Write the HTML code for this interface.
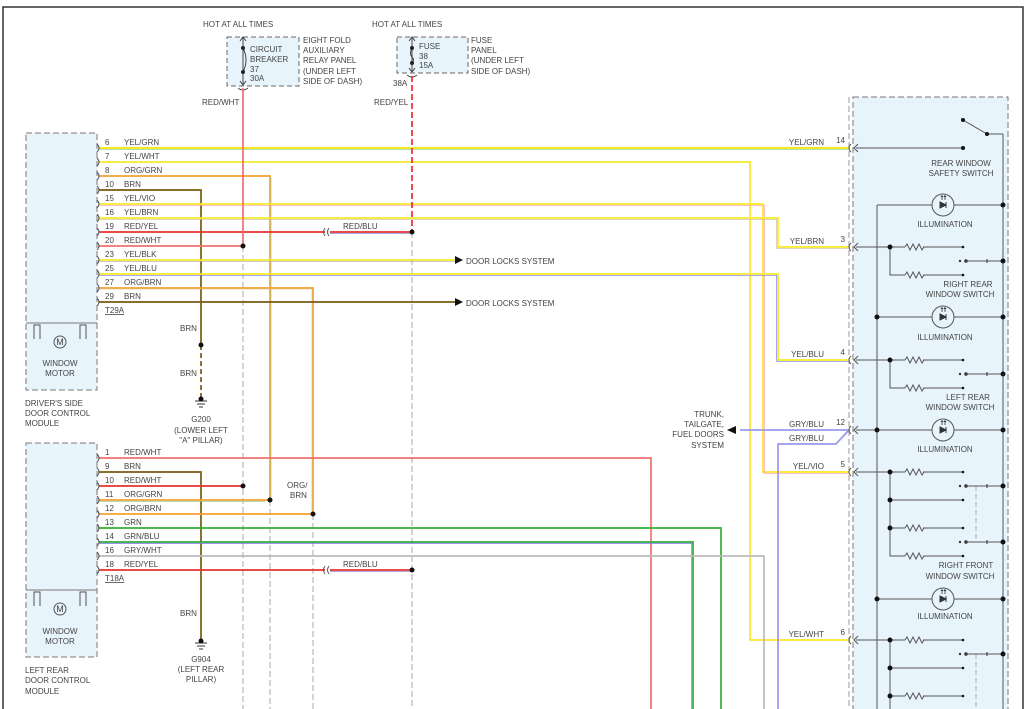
<!DOCTYPE html>
<html><head><meta charset="utf-8"><style>
html,body{margin:0;padding:0;background:#fff;width:1031px;height:709px;overflow:hidden}
svg text{font-family:"Liberation Sans",sans-serif;font-size:8px;fill:#444}
</style></head><body>
<svg width="1031" height="709" viewBox="0 0 1031 709" xmlns="http://www.w3.org/2000/svg">
<defs>
<g id="res"><path d="M0,0 l2,-3 l3,6 l3,-6 l3,6 l3,-6 l3,6 l2,-3" fill="none" stroke="#555" stroke-width="1"/></g>
<g id="illum"><circle r="11" fill="#e8f4fb" stroke="#555" stroke-width="1"/><path d="M-3,-3 L3,0 L-3,3Z M3,-3 V3" fill="#333" stroke="#333" stroke-width="1"/><path d="M-1,-5 v-4 M2,-5 v-4" stroke="#333" stroke-width="0.8"/><path d="M-2.5,-8 l1.5,-2 l1.5,2 M0.5,-8 l1.5,-2 l1.5,2" fill="#333"/></g>
<g id="dotline"><circle cx="960" cy="0" r="1.2" fill="#333"/><circle cx="966" cy="0" r="1.8" fill="#333"/><line x1="966" y1="0" x2="1003" y2="0" stroke="#555"/><line x1="987" y1="-2" x2="987" y2="2" stroke="#333"/><circle cx="1003" cy="0" r="2.5" fill="#111"/></g>
<g id="motor"><path d="M-20,0 v-14 h-6 v14 M20,0 v-14 h6 v14" fill="none" stroke="#555"/><circle r="6" cy="3" fill="#e8f4fb" stroke="#555"/><text x="0" y="6" text-anchor="middle" style="font-size:9px">M</text></g>
</defs>
<path d="M3,709 V7 H1023 V709" fill="none" stroke="#333" stroke-width="1.5"/>

<text x="203" y="27">HOT AT ALL TIMES</text>
<text x="372" y="27">HOT AT ALL TIMES</text>
<rect x="227" y="37" width="72" height="49" fill="#e8f4fb" stroke="#666" stroke-dasharray="5,3"/>
<rect x="397" y="37" width="71" height="36" fill="#e8f4fb" stroke="#666" stroke-dasharray="5,3"/>
<path d="M243,37 V85 M240,41 l3,-4 l3,4 M240,81 l3,4 l3,-4" fill="none" stroke="#444"/>
<path d="M243,48 q6,12 0,24" fill="none" stroke="#444"/>
<circle cx="243" cy="48" r="2" fill="#222"/><circle cx="243" cy="72" r="2" fill="#222"/>
<path d="M238,88 q5,4 10,0" fill="none" stroke="#444"/>
<text x="250" y="52">CIRCUIT</text><text x="250" y="62">BREAKER</text><text x="250" y="72">37</text><text x="250" y="81">30A</text>
<text x="303" y="43">EIGHT FOLD</text><text x="303" y="53">AUXILIARY</text><text x="303" y="63">RELAY PANEL</text><text x="303" y="74">(UNDER LEFT</text><text x="303" y="84">SIDE OF DASH)</text>
<path d="M412,37 V72 M409,41 l3,-4 l3,4 M409,68 l3,4 l3,-4" fill="none" stroke="#444"/>
<path d="M412,48 q-3,6 0,9 q3,3 0,6" fill="none" stroke="#444"/>
<circle cx="412" cy="48" r="2" fill="#222"/><circle cx="412" cy="63" r="2" fill="#222"/>
<path d="M407,75 q5,4 10,0" fill="none" stroke="#444"/>
<text x="419" y="49">FUSE</text><text x="419" y="59">38</text><text x="419" y="68">15A</text>
<text x="471" y="43">FUSE</text><text x="471" y="53">PANEL</text><text x="471" y="63">(UNDER LEFT</text><text x="471" y="74">SIDE OF DASH)</text>
<text x="393" y="86">38A</text>
<text x="202" y="105">RED/WHT</text>
<text x="374" y="105">RED/YEL</text>

<g stroke="#aaa" stroke-dasharray="6,3" fill="none">
<line x1="243" y1="246" x2="243" y2="709"/>
<line x1="270" y1="500" x2="270" y2="709"/>
<line x1="313" y1="514" x2="313" y2="709"/>
<line x1="412" y1="232" x2="412" y2="709"/>
</g>

<rect x="26" y="133" width="71" height="257" fill="#e8f4fb" stroke="#777" stroke-dasharray="6,3"/>
<line x1="26" y1="323" x2="97" y2="323" stroke="#777"/>
<use href="#motor" x="60" y="339"/>
<text x="60" y="366" text-anchor="middle">WINDOW</text><text x="60" y="376" text-anchor="middle">MOTOR</text>
<text x="25" y="406">DRIVER'S SIDE</text><text x="25" y="416">DOOR CONTROL</text><text x="25" y="426">MODULE</text>
<rect x="26" y="443" width="71" height="214" fill="#e8f4fb" stroke="#777" stroke-dasharray="6,3"/>
<line x1="26" y1="590" x2="97" y2="590" stroke="#777"/>
<use href="#motor" x="60" y="606"/>
<text x="60" y="634" text-anchor="middle">WINDOW</text><text x="60" y="644" text-anchor="middle">MOTOR</text>
<text x="25" y="673">LEFT REAR</text><text x="25" y="683">DOOR CONTROL</text><text x="25" y="694">MODULE</text>

<rect x="853" y="97" width="155" height="620" fill="#e8f4fb" stroke="#777" stroke-dasharray="6,3"/>
<line x1="849" y1="97" x2="849" y2="709" stroke="#999" stroke-dasharray="6,3"/>
<line x1="1003" y1="134" x2="1003" y2="709" stroke="#555"/>
<line x1="877" y1="205" x2="877" y2="709" stroke="#555"/>

<g fill="none" stroke-width="1.7">
<polyline points="99,148 850,148" stroke="#f2e600"/><polyline points="99,149.3 850,149.3" stroke="#8c8" stroke-width="0.6"/>
<polyline points="99,162 750,162 750,640 850,640" stroke="#f5e92a"/>
<polyline points="99,176 270,176 270,500" stroke="#f5a030"/><polyline points="270,177 271,177 271,500" stroke="#8c8" stroke-width="0.6"/>
<polyline points="99,190 201,190 201,345" stroke="#7a5a10"/>
<polyline points="201,345 201,398" stroke="#7a5a10" stroke-dasharray="5,3"/>
<polyline points="99,204 763,204 763,472 850,472" stroke="#f5e92a"/><polyline points="99,205.3 764.3,205.3 764.3,473.3 850,473.3" stroke="#f9a" stroke-width="0.7"/>
<polyline points="99,218 778,218 778,247 850,247" stroke="#f5e92a"/><polyline points="99,219.3 776.7,219.3 776.7,248.3 850,248.3" stroke="#cb9" stroke-width="0.7"/>
<polyline points="99,232 325,232" stroke="#e83030"/>
<polyline points="330,232 412,232" stroke="#e83030"/><polyline points="330,233.3 410,233.3" stroke="#77c" stroke-width="0.7"/>
<polyline points="243,88 243,246" stroke="#f07070"/>
<polyline points="412,76 412,232" stroke="#e83030" stroke-dasharray="6,3"/>
<polyline points="99,246 243,246" stroke="#f07070"/>
<polyline points="99,260 455,260" stroke="#f5e92a"/><polyline points="99,261.3 455,261.3" stroke="#aaa" stroke-width="0.6"/>
<polyline points="99,274 778,274 778,360 850,360" stroke="#f5e92a"/><polyline points="99,275.3 776.7,275.3 776.7,361.3 850,361.3" stroke="#77e" stroke-width="0.7"/>
<polyline points="99,288 313,288 313,514" stroke="#f5a030"/><polyline points="99,289 312,289 312,514" stroke="#cb8" stroke-width="0.6"/>
<polyline points="99,302 455,302" stroke="#7a5a10"/>

<polyline points="99,458 651,458 651,709" stroke="#f07070"/>
<polyline points="99,472 201,472 201,640" stroke="#7a5a10"/>
<polyline points="99,486 243,486" stroke="#e83030"/>
<polyline points="99,500 270,500" stroke="#f5a030"/><polyline points="99,501.3 265,501.3" stroke="#8c8" stroke-width="0.6"/>
<polyline points="99,514 313,514" stroke="#f5a030"/>
<polyline points="99,528 721,528 721,709" stroke="#30b030"/>
<polyline points="99,542 693,542 693,709" stroke="#30b030"/><polyline points="99,543.3 691.7,543.3 691.7,709" stroke="#77e" stroke-width="0.8"/>
<polyline points="99,556 764,556 764,709" stroke="#bbb"/>
<polyline points="99,570 325,570" stroke="#e83030"/>
<polyline points="330,570 412,570" stroke="#e83030"/><polyline points="330,571.3 410,571.3" stroke="#77c" stroke-width="0.7"/>
<polyline points="850,430 740,430" stroke="#9999ee"/>
<polyline points="848,431 836,444 778,444 778,709" stroke="#9999ee"/>
</g>
<path d="M325,228 q-3,4 0,8 M329,228 q-3,4 0,8 M325,566 q-3,4 0,8 M329,566 q-3,4 0,8" fill="none" stroke="#555"/>

<g fill="#111">
<circle cx="243" cy="246" r="2.5"/><circle cx="412" cy="232" r="2.5"/><circle cx="201" cy="345" r="2.5"/>
<circle cx="243" cy="486" r="2.5"/><circle cx="270" cy="500" r="2.5"/><circle cx="313" cy="514" r="2.5"/><circle cx="412" cy="570" r="2.5"/>
<path d="M455,256 l8,4 l-8,4Z M455,298 l8,4 l-8,4Z M727,430 l9,-4 v8Z"/>
</g>
<g stroke="#333" fill="none"><path d="M195,401 h12 M197,404 h8 M199,407 h4"/><path d="M195,643 h12 M197,646 h8 M199,649 h4"/></g>
<circle cx="201" cy="399" r="2.5" fill="#111"/><circle cx="201" cy="641" r="2.5" fill="#111"/>
<text x="201" y="422" text-anchor="middle">G200</text><text x="201" y="433" text-anchor="middle">(LOWER LEFT</text><text x="201" y="443" text-anchor="middle">"A" PILLAR)</text>
<text x="201" y="662" text-anchor="middle">G904</text><text x="201" y="672" text-anchor="middle">(LEFT REAR</text><text x="201" y="682" text-anchor="middle">PILLAR)</text>
<text x="180" y="331">BRN</text><text x="180" y="376">BRN</text><text x="180" y="616">BRN</text>
<text x="287" y="488">ORG/</text><text x="290" y="498">BRN</text>
<text x="343" y="229">RED/BLU</text><text x="343" y="567">RED/BLU</text>
<text x="466" y="264">DOOR LOCKS SYSTEM</text><text x="466" y="306">DOOR LOCKS SYSTEM</text>
<g text-anchor="end"><text x="724" y="417">TRUNK,</text><text x="724" y="427">TAILGATE,</text><text x="724" y="437">FUEL DOORS</text><text x="724" y="448">SYSTEM</text></g>

<g fill="none" stroke="#555">
<path d="M97,144 q4,4 0,8 M97,158 q4,4 0,8 M97,172 q4,4 0,8 M97,186 q4,4 0,8 M97,200 q4,4 0,8 M97,214 q4,4 0,8 M97,228 q4,4 0,8 M97,242 q4,4 0,8 M97,256 q4,4 0,8 M97,270 q4,4 0,8 M97,284 q4,4 0,8 M97,298 q4,4 0,8"/>
<path d="M97,454 q4,4 0,8 M97,468 q4,4 0,8 M97,482 q4,4 0,8 M97,496 q4,4 0,8 M97,510 q4,4 0,8 M97,524 q4,4 0,8 M97,538 q4,4 0,8 M97,552 q4,4 0,8 M97,566 q4,4 0,8"/>
<path d="M851,144 q-4,4 0,8 M851,243 q-4,4 0,8 M851,356 q-4,4 0,8 M851,426 q-4,4 0,8 M851,468 q-4,4 0,8 M851,636 q-4,4 0,8"/>
<path d="M858,144 l-4,4 l4,4 M858,243 l-4,4 l4,4 M858,356 l-4,4 l4,4 M858,426 l-4,4 l4,4 M858,468 l-4,4 l4,4 M858,636 l-4,4 l4,4"/>
</g>
<g>
<text x="105" y="145">6</text><text x="124" y="145">YEL/GRN</text>
<text x="105" y="159">7</text><text x="124" y="159">YEL/WHT</text>
<text x="105" y="173">8</text><text x="124" y="173">ORG/GRN</text>
<text x="105" y="187">10</text><text x="124" y="187">BRN</text>
<text x="105" y="201">15</text><text x="124" y="201">YEL/VIO</text>
<text x="105" y="215">16</text><text x="124" y="215">YEL/BRN</text>
<text x="105" y="229">19</text><text x="124" y="229">RED/YEL</text>
<text x="105" y="243">20</text><text x="124" y="243">RED/WHT</text>
<text x="105" y="257">23</text><text x="124" y="257">YEL/BLK</text>
<text x="105" y="271">25</text><text x="124" y="271">YEL/BLU</text>
<text x="105" y="285">27</text><text x="124" y="285">ORG/BRN</text>
<text x="105" y="299">29</text><text x="124" y="299">BRN</text>
<text x="105" y="313" text-decoration="underline">T29A</text>
<text x="105" y="455">1</text><text x="124" y="455">RED/WHT</text>
<text x="105" y="469">9</text><text x="124" y="469">BRN</text>
<text x="105" y="483">10</text><text x="124" y="483">RED/WHT</text>
<text x="105" y="497">11</text><text x="124" y="497">ORG/GRN</text>
<text x="105" y="511">12</text><text x="124" y="511">ORG/BRN</text>
<text x="105" y="525">13</text><text x="124" y="525">GRN</text>
<text x="105" y="539">14</text><text x="124" y="539">GRN/BLU</text>
<text x="105" y="553">16</text><text x="124" y="553">GRY/WHT</text>
<text x="105" y="567">18</text><text x="124" y="567">RED/YEL</text>
<text x="105" y="581" text-decoration="underline">T18A</text>
</g>
<g text-anchor="end">
<text x="824" y="145">YEL/GRN</text><text x="845" y="143">14</text>
<text x="824" y="244">YEL/BRN</text><text x="845" y="242">3</text>
<text x="824" y="357">YEL/BLU</text><text x="845" y="355">4</text>
<text x="824" y="427">GRY/BLU</text><text x="845" y="425">12</text>
<text x="824" y="441">GRY/BLU</text>
<text x="824" y="469">YEL/VIO</text><text x="845" y="467">5</text>
<text x="824" y="637">YEL/WHT</text><text x="845" y="635">6</text>
</g>

<g stroke="#555" fill="none">
<line x1="856" y1="148" x2="963" y2="148"/>
<line x1="963" y1="120" x2="987" y2="134"/><line x1="987" y1="134" x2="1003" y2="134"/>
<line x1="877" y1="205" x2="1003" y2="205"/><line x1="877" y1="317" x2="1003" y2="317"/><line x1="856" y1="430" x2="1003" y2="430"/><line x1="877" y1="599" x2="1003" y2="599"/>
<path d="M856,247 H905 M923,247 H963 M890,247 V275 H905 M923,275 H963"/>
<path d="M856,360 H905 M923,360 H963 M890,360 V388 H905 M923,388 H963"/>
<path d="M856,472 H905 M923,472 H963 M890,472 V556 H905 M923,556 H963 M890,500 H963 M890,528 H905 M923,528 H963"/>
<path d="M856,640 H905 M923,640 H963 M890,640 V709 M890,668 H963 M890,696 H905 M923,696 H963"/>
</g>
<g stroke="#aaa" stroke-dasharray="5,3"><line x1="976" y1="486" x2="976" y2="542"/><line x1="976" y1="654" x2="976" y2="709"/></g>
<use href="#res" x="905" y="247"/><use href="#res" x="905" y="275"/><use href="#res" x="905" y="360"/><use href="#res" x="905" y="388"/>
<use href="#res" x="905" y="472"/><use href="#res" x="905" y="528"/><use href="#res" x="905" y="556"/><use href="#res" x="905" y="640"/><use href="#res" x="905" y="696"/>
<use href="#dotline" x="0" y="261"/><use href="#dotline" x="0" y="374"/><use href="#dotline" x="0" y="486"/><use href="#dotline" x="0" y="542"/><use href="#dotline" x="0" y="654"/>
<use href="#illum" x="943" y="205"/><use href="#illum" x="943" y="317"/><use href="#illum" x="943" y="430"/><use href="#illum" x="943" y="599"/>
<g fill="#111">
<circle cx="963" cy="120" r="2"/><circle cx="987" cy="134" r="2"/><circle cx="963" cy="148" r="2"/>
<circle cx="1003" cy="205" r="2.5"/><circle cx="877" cy="317" r="2.5"/><circle cx="1003" cy="317" r="2.5"/><circle cx="877" cy="430" r="2.5"/><circle cx="1003" cy="430" r="2.5"/><circle cx="877" cy="599" r="2.5"/><circle cx="1003" cy="599" r="2.5"/>
<circle cx="890" cy="247" r="2.5"/><circle cx="890" cy="360" r="2.5"/><circle cx="890" cy="472" r="2.5"/><circle cx="890" cy="500" r="2.5"/><circle cx="890" cy="528" r="2.5"/><circle cx="890" cy="640" r="2.5"/><circle cx="890" cy="668" r="2.5"/><circle cx="890" cy="696" r="2.5"/>
<circle cx="963" cy="247" r="1.3"/><circle cx="963" cy="275" r="1.3"/><circle cx="963" cy="360" r="1.3"/><circle cx="963" cy="388" r="1.3"/><circle cx="963" cy="472" r="1.3"/><circle cx="963" cy="500" r="1.3"/><circle cx="963" cy="528" r="1.3"/><circle cx="963" cy="556" r="1.3"/><circle cx="963" cy="640" r="1.3"/><circle cx="963" cy="668" r="1.3"/><circle cx="963" cy="696" r="1.3"/>
</g>
<g text-anchor="middle">
<text x="961" y="166">REAR WINDOW</text><text x="961" y="176">SAFETY SWITCH</text>
<text x="945" y="227">ILLUMINATION</text>
<text x="968" y="287">RIGHT REAR</text><text x="960" y="297">WINDOW SWITCH</text>
<text x="945" y="340">ILLUMINATION</text>
<text x="968" y="400">LEFT REAR</text><text x="960" y="410">WINDOW SWITCH</text>
<text x="945" y="452">ILLUMINATION</text>
<text x="966" y="568">RIGHT FRONT</text><text x="960" y="579">WINDOW SWITCH</text>
<text x="945" y="619">ILLUMINATION</text>
</g>
</svg>
</body></html>
